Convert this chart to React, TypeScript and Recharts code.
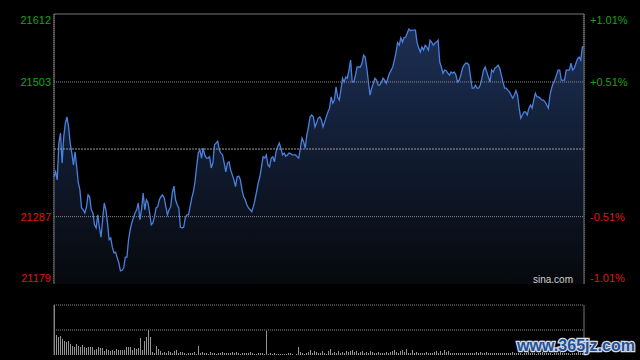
import {
  Area,
  AreaChart,
  Bar,
  BarChart,
  CartesianGrid,
  ReferenceLine,
  XAxis,
  YAxis,
} from "recharts";

const SESSION_MINUTES = 330;
const GRID_MINUTES = [0, 30, 60, 90, 120, 150, 180, 210, 240, 270, 300, 330];
const PREV_CLOSE = 21395.5;
const PRICE_TICKS = [21179, 21287, 21395.5, 21503, 21612];
const PRICE_LABELS = ["21179", "21287", "", "21503", "21612"];
const PCT_LABELS = ["-1.01%", "-0.51%", "", "+0.51%", "+1.01%"];

// intraday index level, read off the chart roughly once a minute
const PRICES = [
  21351, 21359, 21346, 21405, 21421, 21373, 21415, 21437, 21447, 21431,
  21405, 21389, 21370, 21391, 21367, 21341, 21330, 21301, 21298, 21293,
  21302, 21322, 21319, 21298, 21293, 21274, 21269, 21290, 21270, 21254,
  21282, 21309, 21298, 21277, 21250, 21253, 21238, 21229, 21230, 21221,
  21213, 21200, 21201, 21205, 21222, 21222, 21250, 21266, 21277, 21285,
  21293, 21298, 21309, 21282, 21298, 21325, 21298, 21314, 21309, 21293,
  21274, 21277, 21287, 21301, 21303, 21314, 21319, 21322, 21317, 21303,
  21290, 21298, 21303, 21325, 21336, 21314, 21306, 21301, 21270, 21269,
  21270, 21285, 21290, 21290, 21303, 21317, 21327, 21343, 21367, 21389,
  21394, 21381, 21397, 21386, 21381, 21381, 21383, 21365, 21373, 21402,
  21405, 21408, 21394, 21389, 21386, 21373, 21359, 21373, 21375, 21362,
  21354, 21346, 21335, 21351, 21352, 21346, 21330, 21319, 21314, 21306,
  21301, 21298, 21295, 21303, 21314, 21327, 21341, 21351, 21367, 21383,
  21381, 21386, 21370, 21367, 21381, 21383, 21375, 21391, 21399, 21405,
  21397, 21386, 21389, 21384, 21386, 21389, 21388, 21386, 21386, 21386,
  21383, 21381, 21397, 21413, 21407, 21397, 21418, 21431, 21447, 21450,
  21447, 21431, 21437, 21445, 21447, 21442, 21431, 21439, 21447, 21455,
  21461, 21479, 21469, 21474, 21495, 21479, 21474, 21490, 21509, 21503,
  21511, 21509, 21522, 21538, 21503, 21503, 21514, 21527, 21527, 21527,
  21533, 21546, 21543, 21525, 21503, 21482, 21493, 21501, 21509, 21506,
  21498, 21498, 21503, 21509, 21506, 21501, 21509, 21517, 21522, 21527,
  21538, 21550, 21566, 21562, 21574, 21567, 21574, 21575, 21582, 21588,
  21585, 21586, 21586, 21586, 21566, 21558, 21551, 21559, 21554, 21562,
  21559, 21554, 21570, 21567, 21562, 21565, 21567, 21570, 21535, 21527,
  21517, 21522, 21521, 21517, 21514, 21519, 21517, 21519, 21514, 21503,
  21506, 21514, 21525, 21530, 21533, 21533, 21530, 21511, 21493, 21493,
  21498, 21493, 21493, 21498, 21509, 21522, 21527, 21519, 21511, 21503,
  21522, 21519, 21525, 21527, 21530, 21525, 21514, 21503, 21493, 21493,
  21490, 21487, 21482, 21477, 21482, 21489, 21482, 21461, 21445, 21450,
  21455, 21455, 21450, 21461, 21466, 21461, 21474, 21485, 21479, 21479,
  21477, 21474, 21474, 21471, 21466, 21461, 21482, 21493, 21501, 21506,
  21514, 21522, 21522, 21506, 21506, 21506, 21522, 21522, 21522, 21533,
  21522, 21525, 21533, 21540, 21543, 21538, 21559, 21560,
];

// volume, relative to the opening bar (= 100)
const VOLUMES = [
  100, 41, 36, 38, 32, 28, 26, 29, 22, 19, 17, 22, 19, 16, 20, 17, 14, 16, 16, 16,
  11, 12, 17, 14, 14, 9, 12, 10, 9, 10, 9, 12, 11, 11, 10, 11, 16, 17, 16, 11,
  14, 12, 14, 34, 11, 28, 36, 51, 37, 7, 5, 19, 12, 9, 5, 7, 4, 9, 7, 4,
  9, 10, 5, 7, 7, 5, 3, 4, 5, 5, 7, 3, 18, 4, 7, 5, 5, 3, 7, 5,
  5, 3, 5, 4, 7, 5, 5, 4, 5, 7,
  4, 7, 4, 2, 5, 5, 4, 5, 7, 4, 3, 2, 5, 4, 4, 2, 48, 3, 4, 2,
  4, 2, 3, 2, 3, 2, 2, 4, 4, 2, 1, 2, 17, 7, 5, 3, 5, 7, 10, 5,
  9, 7, 5, 4, 9, 4, 3, 9, 12, 5, 7, 5, 9, 4, 7, 5, 9, 7, 9, 10,
  7, 9, 5, 7, 9, 5, 7, 5, 9, 7, 4, 5, 7, 4, 4, 5, 7, 5, 7, 9,
  10, 7, 5, 9, 10, 7, 12, 5, 4,
  10, 5, 7, 4, 5, 4, 5, 7, 4, 5, 4, 7, 9, 5, 9, 4, 10, 7, 9, 4,
  5, 4, 5, 4, 4, 5, 5, 4, 4, 5, 4, 5, 7, 5, 7, 4, 5, 7, 5, 4,
  5, 5, 4, 5, 4, 5, 4, 5, 4, 5, 7, 4,
  5, 4, 5, 3, 4, 5, 6, 4, 5, 4, 3, 5, 4, 6, 5, 4, 5, 4, 3, 5,
  4, 5, 6, 4, 5, 4, 5, 3, 4, 5, 4, 6, 5, 4,
];

const GREEN = "#17a317";
const RED = "#e01515";
const FONT = "'Liberation Sans', Arial, sans-serif";

const priceData = PRICES.map((price, i) => ({
  t: (i * SESSION_MINUTES) / (PRICES.length - 1),
  price,
}));
const volumeData = VOLUMES.map((v, i) => ({ i, v }));

function PriceTick(props: any) {
  const { x, y, payload, side } = props;
  const i = PRICE_TICKS.indexOf(payload.value);
  const text = side === "left" ? PRICE_LABELS[i] : PCT_LABELS[i];
  if (!text) return <g />;
  const dy = i === PRICE_TICKS.length - 1 ? 10 : i === 0 ? -2 : 4;
  return (
    <text
      x={x}
      y={y + dy}
      textAnchor={side === "left" ? "end" : "start"}
      fill={payload.value > PREV_CLOSE ? GREEN : RED}
      fontSize={11}
      fontFamily={FONT}
    >
      {text}
    </text>
  );
}

export default function App() {
  return (
    <div
      style={{
        position: "absolute",
        left: 0,
        top: 0,
        width: 640,
        height: 360,
        background: "#000",
        overflow: "hidden",
      }}
    >
      <style>{".vol .recharts-rectangle{shape-rendering:crispEdges}"}</style>
      <div style={{ position: "absolute", left: 0, top: 0 }}>
        <AreaChart
          width={640}
          height={290}
          data={priceData}
          margin={{ top: 14, right: 0, bottom: 6, left: 0 }}
        >
          <defs>
            <linearGradient id="priceFill" x1="0" y1="0" x2="0" y2="1">
              <stop offset="0%" stopColor="#1c2f54" />
              <stop offset="100%" stopColor="#06080c" />
            </linearGradient>
          </defs>
          <CartesianGrid horizontal={false} stroke="#8a8a8a" strokeDasharray="1 1" />
          <XAxis
            dataKey="t"
            type="number"
            domain={[0, SESSION_MINUTES]}
            ticks={GRID_MINUTES}
            height={0}
            tick={false}
            tickLine={false}
            axisLine={{ stroke: "#777" }}
          />
          <YAxis
            yAxisId="left"
            width={54}
            domain={[PRICE_TICKS[0], PRICE_TICKS[4]]}
            ticks={PRICE_TICKS}
            interval={0}
            tickSize={0}
            tickMargin={3}
            tickLine={false}
            axisLine={{ stroke: "#777" }}
            tick={(p: any) => <PriceTick {...p} side="left" />}
          />
          <YAxis
            yAxisId="right"
            orientation="right"
            width={56}
            domain={[PRICE_TICKS[0], PRICE_TICKS[4]]}
            ticks={PRICE_TICKS}
            interval={0}
            tickSize={0}
            tickMargin={6}
            tickLine={false}
            axisLine={{ stroke: "#777" }}
            tick={(p: any) => <PriceTick {...p} side="right" />}
          />
          <ReferenceLine yAxisId="left" y={PRICE_TICKS[4]} stroke="#777" />
          <ReferenceLine yAxisId="left" y={PRICE_TICKS[3]} stroke="#8a8a8a" strokeDasharray="1 1" />
          <ReferenceLine yAxisId="left" y={PRICE_TICKS[1]} stroke="#8a8a8a" strokeDasharray="1 1" />
          <ReferenceLine yAxisId="left" y={PREV_CLOSE} stroke="#9a9a9a" strokeDasharray="2 1" />
          {/* same series on the right axis, invisible, so the % scale gets drawn */}
          <Area
            yAxisId="right"
            type="linear"
            dataKey="price"
            stroke="none"
            fill="none"
            dot={false}
            activeDot={false}
            isAnimationActive={false}
          />
          <Area
            yAxisId="left"
            type="linear"
            dataKey="price"
            stroke="#4a80df"
            strokeWidth={1.3}
            fill="url(#priceFill)"
            fillOpacity={1}
            dot={false}
            activeDot={false}
            isAnimationActive={false}
          />
        </AreaChart>
      </div>
      <div className="vol" style={{ position: "absolute", left: 0, top: 290 }}>
        <BarChart
          width={640}
          height={70}
          data={volumeData}
          margin={{ top: 15, right: 0, bottom: 5, left: 0 }}
          barCategoryGap={0}
        >
          <XAxis dataKey="i" hide />
          <YAxis
            yAxisId="l"
            width={54}
            domain={[0, 100]}
            tick={false}
            tickLine={false}
            axisLine={{ stroke: "#777" }}
          />
          <YAxis
            yAxisId="r"
            orientation="right"
            width={56}
            domain={[0, 100]}
            tick={false}
            tickLine={false}
            axisLine={{ stroke: "#777" }}
          />
          <ReferenceLine yAxisId="l" y={100} stroke="#8a8a8a" strokeDasharray="1 1" />
          <ReferenceLine yAxisId="l" y={50} stroke="#8a8a8a" strokeDasharray="1 1" />
          <Bar yAxisId="l" dataKey="v" fill="#959595" barSize={1} isAnimationActive={false} />
          <Bar yAxisId="r" dataKey="v" fill="none" barSize={1} isAnimationActive={false} />
        </BarChart>
      </div>
      <svg
        width={640}
        height={360}
        style={{ position: "absolute", left: 0, top: 0, pointerEvents: "none" }}
      >
        <text x={573} y={283} textAnchor="end" fill="#cfcfcf" fontSize={10} fontFamily={FONT}>
          sina.com
        </text>
        <text
          x={517}
          y={351}
          fill="#1e4f9a"
          stroke="#d5dbe4"
          strokeWidth={2.5}
          paintOrder="stroke"
          fontSize={16}
          fontWeight="bold"
          fontFamily={FONT}
          textLength={118}
          lengthAdjust="spacingAndGlyphs"
        >
          www.365jz.com
        </text>
      </svg>
    </div>
  );
}
